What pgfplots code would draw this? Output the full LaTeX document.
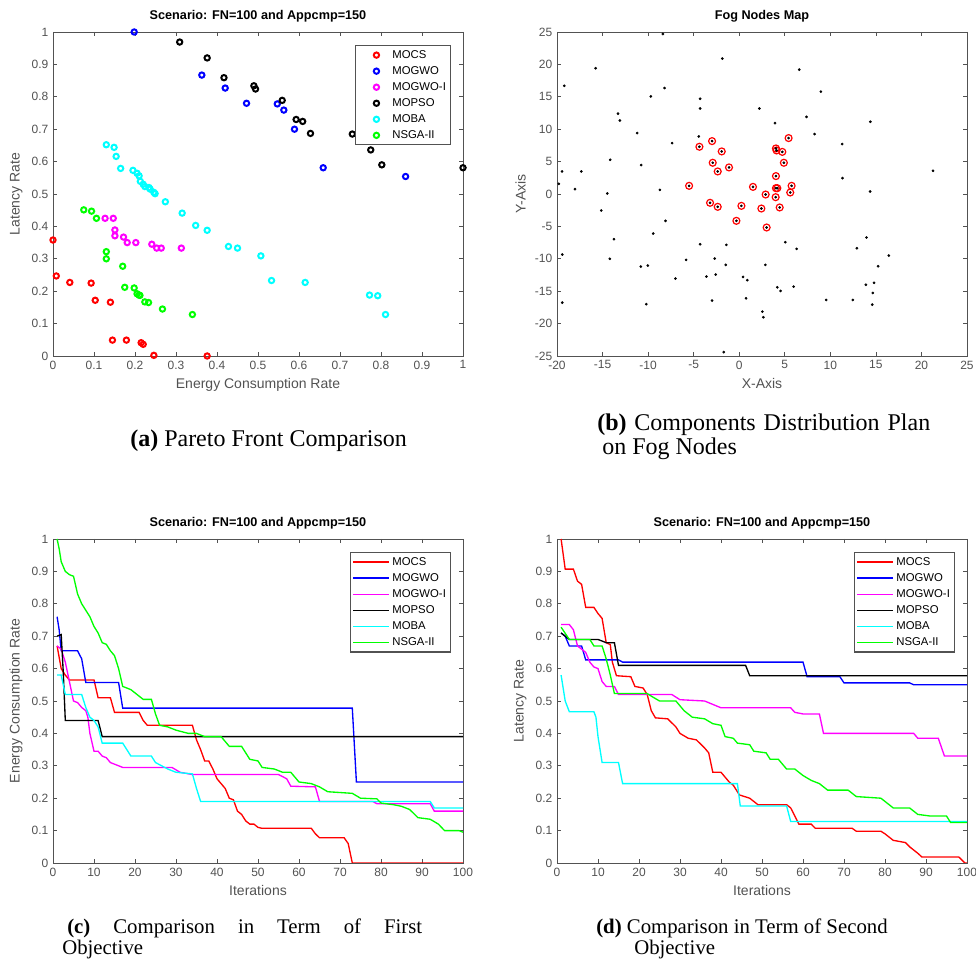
\documentclass[border=0pt]{standalone}
\usepackage{fontspec}
\setmainfont{Liberation Sans}
\newfontfamily\capfont{Liberation Serif}
\usepackage{pgfplots}
\pgfplotsset{compat=1.18}

\definecolor{axgray}{rgb}{0.32,0.32,0.32}
\definecolor{mred}{rgb}{1,0,0}
\definecolor{mblue}{rgb}{0,0,1}
\definecolor{mmag}{rgb}{1,0,1}
\definecolor{mcyan}{rgb}{0,1,1}
\definecolor{mgreen}{rgb}{0,1,0}

\pgfplotsset{
  mat/.style={
    scale only axis, width=307.5pt, height=243pt,
    axis line style={axgray, line width=0.5pt},
    tick style={axgray, line width=0.5pt},
    major tick length=3pt,
    ticklabel style={font=\fontsize{9}{10}\selectfont, text=axgray},
    label style={font=\fontsize{10.5}{12}\selectfont, text=axgray},
    title style={font=\bfseries\fontsize{9.5}{11}\selectfont, yshift=-2pt},
    /pgf/number format/assume math mode=true,
    scaled ticks=false,
    legend style={draw=axgray, line width=0.8pt, font=\fontsize{8.5}{10}\selectfont,
      at={(0.971,0.96)}, anchor=north east, inner sep=1.5pt, row sep=0.6pt},
    legend cell align=left,
  },
  pts/.style={only marks, mark=o, mark size=2pt, line width=1.5pt,
    legend image code/.code={\draw[##1] plot coordinates {(0.5cm,0cm)};
      \path[draw=none] (0cm,0cm) (0.85cm,0cm);}},
  ln/.style={line width=1pt},
  lnleg/.style={legend image code/.code={\draw[##1] (0cm,0cm) -- (0.95cm,0cm);}},
}

\begin{document}
\begin{tikzpicture}
\path[use as bounding box] (0,0) rectangle (732pt,723.75pt);

% (a) pareto fronts
\begin{axis}[mat, at={(39.75pt,456.75pt)}, anchor=south west,
  xmin=0, xmax=1, ymin=0, ymax=1, clip=false,
  xtick={0,0.1,...,1}, ytick={0,0.1,...,1},
  title={Scenario: FN=100 and Appcmp=150},
  xlabel={Energy Consumption Rate}, ylabel={Latency Rate}]
\addplot[pts, mred] coordinates {(0,0.358) (0.008,0.247) (0.041,0.227) (0.093,0.225)
  (0.103,0.172) (0.140,0.166) (0.145,0.049) (0.179,0.049) (0.215,0.041) (0.220,0.036)
  (0.246,0.002) (0.376,0)};
\addplot[pts, mblue] coordinates {(0.198,1.0) (0.363,0.867) (0.420,0.827) (0.472,0.780)
  (0.547,0.778) (0.563,0.759) (0.589,0.700) (0.659,0.581) (0.860,0.554)};
\addplot[pts, mmag] coordinates {(0.127,0.425) (0.147,0.425) (0.151,0.389) (0.151,0.371)
  (0.172,0.367) (0.181,0.350) (0.202,0.350) (0.241,0.345) (0.253,0.333) (0.264,0.333)
  (0.313,0.333)};
\addplot[pts, black] coordinates {(0.309,0.969) (0.376,0.920) (0.417,0.859) (0.490,0.834)
  (0.494,0.824) (0.559,0.789) (0.593,0.730) (0.609,0.724) (0.628,0.687) (0.730,0.685)
  (0.761,0.672) (0.775,0.636) (0.802,0.590) (1.0,0.581)};
\addplot[pts, mcyan] coordinates {(0.130,0.652) (0.149,0.644) (0.154,0.616) (0.165,0.579)
  (0.195,0.573) (0.205,0.564) (0.210,0.556) (0.213,0.539) (0.220,0.530) (0.224,0.523)
  (0.234,0.520) (0.237,0.515) (0.246,0.505) (0.249,0.501) (0.274,0.476) (0.315,0.441)
  (0.348,0.403) (0.376,0.388) (0.428,0.338) (0.450,0.333) (0.507,0.309) (0.533,0.233)
  (0.615,0.227) (0.772,0.188) (0.792,0.186) (0.811,0.128)};
\addplot[pts, mgreen] coordinates {(0.075,0.451) (0.094,0.447) (0.106,0.425) (0.130,0.322)
  (0.130,0.300) (0.170,0.277) (0.175,0.212) (0.198,0.210) (0.205,0.192) (0.210,0.188)
  (0.212,0.187) (0.224,0.167) (0.233,0.165) (0.267,0.145) (0.340,0.128)};
\legend{MOCS,MOGWO,MOGWO-I,MOPSO,MOBA,NSGA-II}
\end{axis}

% (b) fog nodes map
\begin{axis}[mat, at={(417.75pt,456.75pt)}, anchor=south west,
  xmin=-20, xmax=25, ymin=-25, ymax=25,
  xtick={-20,-15,...,25}, ytick={-25,-20,...,25},
  title={Fog Nodes Map}, xlabel={X-Axis}, ylabel={Y-Axis}]
\addplot[only marks, mark=o, mark size=2.6pt, line width=0.9pt, mred] coordinates {
  (-4.37,7.29) (-2.98,8.16) (-1.92,6.57) (-2.91,4.82) (-2.36,3.48) (-1.12,4.1)
  (-5.5,1.26) (-3.2,-1.36) (-2.36,-1.98) (0.24,-1.83) (-0.31,-4.14) (1.51,1.1)
  (2.9,-0.08) (2.43,-2.24) (3.01,-5.17) (4.0,-0.49) (4.44,-2.08) (4.03,2.76)
  (4.18,0.9) (4.03,0.9) (5.75,1.26) (5.6,0.23) (4.03,7.03) (4.1,6.72) (4.73,6.5)
  (4.9,4.82) (5.42,8.63)};
\addplot[only marks, mark=*, mark size=0.8pt, black] coordinates {
  (-8.38,24.7) (-19.2,16.7) (-15.76,19.4) (-1.85,20.9) (6.59,19.2) (8.96,15.8)
  (-8.2,16.35) (-9.7,15.06) (-4.29,14.7) (-4.29,13.2) (2.21,13.2) (-13.3,12.4)
  (-13.1,11.35) (7.39,11.9) (14.4,11.15) (3.93,10.94) (-11.2,9.4) (8.27,9.24)
  (-4.44,8.88) (-7.36,7.85) (11.3,7.7) (-14.16,5.28) (-10.76,4.46) (-19.45,3.48)
  (-17.33,3.48) (11.34,2.45) (21.27,3.58) (-19.8,1.57) (-18.03,0.75) (-8.71,0.64)
  (-14.48,0.08) (14.37,0.39) (-15.14,-2.55) (-8.09,-4.14) (-9.44,-6.1) (-13.75,-6.98)
  (13.97,-6.72) (-4.29,-7.75) (-1.41,-7.85) (5.06,-7.44) (6.30,-8.47) (12.91,-8.37)
  (16.42,-9.5) (-19.42,-9.34) (-14.2,-10.0) (-5.83,-10.17) (-2.69,-9.96) (-10.8,-11.2)
  (-10.03,-11.04) (-1.48,-10.94) (2.87,-10.94) (15.25,-11.15) (-2.58,-12.43)
  (-3.6,-12.74) (-7.0,-13.05) (0.42,-12.8) (0.89,-13.3) (14.8,-13.7) (13.9,-14.0)
  (4.18,-14.4) (4.54,-14.96) (5.97,-14.3) (0.75,-16.1) (9.55,-16.35) (12.47,-16.35)
  (14.66,-15.27) (14.6,-17.07) (-2.98,-16.45) (-10.2,-17.0) (-19.42,-16.76)
  (2.54,-18.15) (2.65,-19.02) (-1.7,-24.4)
  (-4.37,7.29) (-2.98,8.16) (-1.92,6.57) (-2.91,4.82) (-2.36,3.48) (-1.12,4.1)
  (-5.5,1.26) (-3.2,-1.36) (-2.36,-1.98) (0.24,-1.83) (-0.31,-4.14) (1.51,1.1)
  (2.9,-0.08) (2.43,-2.24) (3.01,-5.17) (4.0,-0.49) (4.44,-2.08) (4.03,2.76)
  (4.18,0.9) (4.03,0.9) (5.75,1.26) (5.6,0.23) (4.03,7.03) (4.1,6.72) (4.73,6.5)
  (4.9,4.82) (5.42,8.63)};
\end{axis}

% (c) first objective
\begin{axis}[mat, lnleg, at={(39.75pt,76.5pt)}, anchor=south west,
  xmin=0, xmax=100, ymin=0, ymax=1,
  xtick={0,10,...,100}, ytick={0,0.1,...,1},
  title={Scenario: FN=100 and Appcmp=150},
  xlabel={Iterations}, ylabel={Energy Consumption Rate}]
\addplot[ln, mred] coordinates {(1,0.67) (2,0.60) (3,0.58) (4,0.565) (10,0.565) (11,0.51)
  (14,0.51) (15,0.465) (21,0.465) (22,0.44) (23,0.425) (34,0.425) (35,0.38) (36,0.35)
  (37,0.315) (38,0.315) (39,0.29) (40,0.26) (41,0.245) (42,0.23) (43,0.2) (44,0.195)
  (45,0.16) (46,0.15) (47,0.13) (48,0.12) (49,0.12) (50,0.11) (51,0.107) (63,0.107)
  (64,0.09) (65,0.078) (71,0.078) (72,0.06) (73,0) (100,0)};
\addplot[ln, mblue] coordinates {(1,0.76) (1.5,0.72) (2,0.655) (6,0.655) (7,0.63)
  (8,0.557) (16,0.557) (17,0.478) (73,0.478) (74,0.25) (100,0.25)};
\addplot[ln, mmag] coordinates {(1,0.67) (2,0.66) (3,0.62) (4,0.56) (5,0.50) (6,0.495)
  (7,0.48) (8,0.47) (8.5,0.45) (9,0.40) (10,0.345) (11,0.345) (12,0.33) (13,0.325)
  (14,0.31) (15,0.305) (17,0.295) (29,0.295) (31,0.28) (34,0.273) (55,0.273) (57,0.26)
  (58,0.237) (64,0.235) (65,0.19) (78,0.19) (79,0.183) (92,0.183) (93,0.16) (100,0.16)};
\addplot[ln, black] coordinates {(1,0.70) (2,0.705) (2.5,0.59) (3,0.44) (11,0.44)
  (12,0.39) (100,0.39)};
\addplot[ln, mcyan] coordinates {(1,0.58) (2,0.58) (3,0.52) (7,0.52) (8,0.48) (9,0.45)
  (10,0.44) (11,0.42) (12,0.37) (17,0.37) (18,0.35) (19,0.33) (24,0.33) (25,0.31)
  (28,0.29) (30,0.28) (34,0.275) (35,0.23) (36,0.19) (92,0.19) (93,0.17) (100,0.17)};
\addplot[ln, mgreen] coordinates {(1,1.0) (1.5,0.97) (2,0.93) (3,0.90) (4,0.89)
  (5,0.885) (6,0.83) (7,0.80) (8,0.78) (9,0.76) (10,0.73) (11,0.71) (12,0.68)
  (13,0.675) (14,0.655) (15,0.64) (16,0.60) (17,0.545) (19,0.535) (20,0.525)
  (22,0.505) (24,0.505) (25,0.46) (26,0.425) (28,0.42) (30,0.41) (33,0.40) (35,0.40)
  (37,0.39) (41,0.39) (43,0.36) (46,0.36) (48,0.32) (50,0.315) (51,0.295) (54,0.29)
  (56,0.28) (58,0.28) (60,0.25) (63,0.245) (65,0.235) (67,0.22) (73,0.215) (75,0.2)
  (79,0.198) (80,0.185) (83,0.18) (85,0.175) (87,0.165) (89,0.14) (92,0.135)
  (94,0.12) (95.5,0.10) (99,0.10) (100,0.095)};
\legend{MOCS,MOGWO,MOGWO-I,MOPSO,MOBA,NSGA-II}
\end{axis}

% (d) second objective
\begin{axis}[mat, lnleg, at={(417.75pt,76.5pt)}, anchor=south west,
  xmin=0, xmax=100, ymin=0, ymax=1,
  xtick={0,10,...,100}, ytick={0,0.1,...,1},
  title={Scenario: FN=100 and Appcmp=150},
  xlabel={Iterations}, ylabel={Latency Rate}]
\addplot[ln, mred] coordinates {(1,1.0) (2,0.907) (4,0.907) (5,0.87) (6,0.86) (7,0.789)
  (9,0.789) (10,0.77) (11,0.755) (12,0.68) (13,0.674) (13.5,0.62) (14.5,0.578)
  (18,0.575) (19,0.545) (21,0.54) (22,0.52) (23,0.47) (24,0.448) (27,0.445) (29,0.42)
  (30,0.40) (32,0.385) (34,0.38) (36,0.355) (37,0.34) (38,0.28) (40,0.28) (42,0.25)
  (43,0.24) (44.5,0.21) (47,0.2) (49,0.18) (56,0.18) (57,0.17) (59,0.12) (62,0.12)
  (63,0.107) (72,0.107) (73,0.098) (79,0.098) (80,0.09) (82,0.07) (85,0.063)
  (86,0.05) (88,0.03) (89,0.0185) (98,0.0185) (99.5,0) (100,0)};
\addplot[ln, mblue] coordinates {(1,0.71) (2,0.70) (3,0.67) (6,0.67) (7,0.627)
  (15,0.627) (16,0.62) (60,0.62) (61,0.575) (69,0.575) (70,0.556) (86,0.556)
  (87,0.55) (100,0.55)};
\addplot[ln, mmag] coordinates {(1,0.736) (3,0.736) (4,0.72) (5,0.67) (7,0.65) (8,0.62)
  (9,0.605) (10,0.60) (11,0.56) (12,0.545) (14,0.545) (15,0.52) (28,0.52) (30,0.504)
  (36,0.50) (40,0.479) (57,0.479) (58,0.465) (60,0.46) (64,0.46) (65,0.40) (87,0.40)
  (88,0.385) (93,0.385) (94.5,0.33) (100,0.33)};
\addplot[ln, black] coordinates {(1,0.71) (3,0.69) (10,0.69) (12,0.68) (14,0.68)
  (15,0.61) (46,0.61) (47,0.578) (100,0.578)};
\addplot[ln, mcyan] coordinates {(1,0.58) (2,0.50) (3,0.467) (9,0.467) (9.5,0.45)
  (10,0.39) (11,0.31) (15,0.31) (16,0.245) (44,0.245) (44.7,0.176) (56,0.176)
  (57,0.128) (100,0.128)};
\addplot[ln, mgreen] coordinates {(1,0.728) (3,0.69) (8,0.69) (9,0.67) (11,0.67)
  (12,0.63) (13,0.58) (14,0.523) (22,0.523) (23,0.515) (25,0.50) (29,0.50) (31,0.47)
  (33,0.45) (36,0.445) (38,0.43) (40,0.425) (41,0.39) (43,0.385) (44,0.37) (47,0.365)
  (48,0.345) (51,0.34) (52,0.32) (54,0.32) (56,0.29) (58,0.29) (60,0.27) (62,0.255)
  (64,0.245) (66,0.225) (71,0.225) (73,0.205) (79,0.2) (80,0.19) (82,0.17) (86,0.17)
  (88,0.15) (91,0.145) (95,0.145) (96,0.125) (100,0.125)};
\legend{MOCS,MOGWO,MOGWO-I,MOPSO,MOBA,NSGA-II}
\end{axis}

% captions
\node[anchor=base west, inner sep=0] at (97.5pt,388.5pt)
  {\capfont\fontsize{18}{20}\selectfont\textbf{(a)} Pareto Front Comparison};
\node[anchor=base west, inner sep=0] at (447.75pt,400.5pt)
  {\capfont\fontsize{18}{20}\selectfont\makebox[249.75pt][s]{\textbf{(b)} Components Distribution Plan}};
\node[anchor=base west, inner sep=0] at (451.5pt,382.5pt)
  {\capfont\fontsize{18}{20}\selectfont on Fog Nodes};
\node[anchor=base west, inner sep=0] at (50.25pt,23.25pt)
  {\capfont\fontsize{15.6}{18}\selectfont\makebox[266.25pt][s]{\textbf{(c)} Comparison in Term of First}};
\node[anchor=base west, inner sep=0] at (46.5pt,7.5pt)
  {\capfont\fontsize{15.6}{18}\selectfont Objective};
\node[anchor=base west, inner sep=0] at (447pt,23.25pt)
  {\capfont\fontsize{15.6}{18}\selectfont\textbf{(d)} Comparison in Term of Second};
\node[anchor=base west, inner sep=0] at (475.5pt,7.5pt)
  {\capfont\fontsize{15.6}{18}\selectfont Objective};
\end{tikzpicture}
\end{document}
